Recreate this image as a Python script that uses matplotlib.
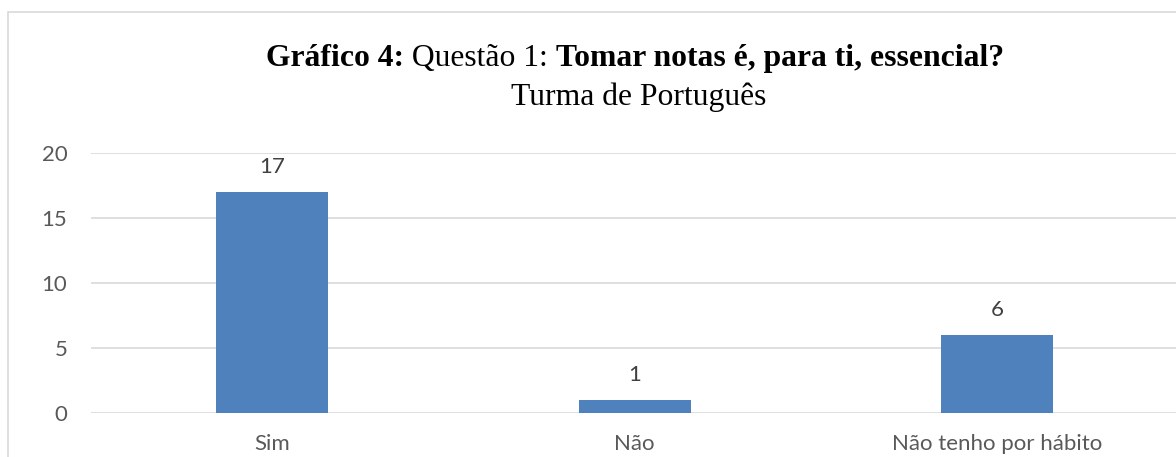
import matplotlib
matplotlib.use("Agg")
import matplotlib.pyplot as plt
from matplotlib.patches import Rectangle

categories = ["Sim", "Não", "Não tenho por hábito"]
values = [17, 1, 6]
yticks = [0, 5, 10, 15, 20]

W, H = 1176, 457
fig = plt.figure(figsize=(W / 100, H / 100), dpi=100)

# chart area border
fig.patches.append(Rectangle((8 / W, -0.1), 1.2, 1 - 12 / H + 0.1, transform=fig.transFigure,
                             fill=False, edgecolor="#d9d9d9", linewidth=1.2))

ax = fig.add_axes([91 / W, 1 - 413 / H, (1178.5 - 91) / W, (413 - 153) / H])
x = list(range(len(categories)))
bars = ax.bar(x, values, width=0.31, color="#4f81bd", zorder=3)
ax.set_xlim(-0.5, len(categories) - 0.5)
ax.set_ylim(0, 20)
ax.set_yticks(yticks)
ax.set_xticks(x)
ax.set_xticklabels(categories)
ax.grid(axis="y", color="#d9d9d9", linewidth=1.2, zorder=0)
for s in ax.spines.values():
    s.set_visible(False)
ax.tick_params(length=0, labelsize=16, labelcolor="#595959")
ax.tick_params(axis="y", pad=17)
ax.tick_params(axis="x", pad=15)
for lab in ax.get_xticklabels() + ax.get_yticklabels():
    lab.set_fontfamily("Lato")
for b, v in zip(bars, values):
    ax.annotate(str(v), (b.get_x() + b.get_width() / 2, v), xytext=(0, 18),
                textcoords="offset points", ha="center", va="center",
                fontsize=16, color="#404040", family="Lato")

# title with mixed weights
parts = [("Gráfico 4:", "bold"), (" Questão 1: ", "normal"),
         ("Tomar notas é, para ti, essencial?", "bold")]
fs = 22.8
fig.canvas.draw()
r = fig.canvas.get_renderer()
texts = []
for s, w in parts:
    t = fig.text(0, 0, s, fontsize=fs, fontweight=w, family="Liberation Serif",
                 color="black", va="baseline", ha="left")
    texts.append(t)
widths = [t.get_window_extent(r).width for t in texts]
total = sum(widths)
cx = 635
x0 = cx - total / 2
for t, wd in zip(texts, widths):
    t.set_position((x0 / W, 1 - 66 / H))
    x0 += wd
fig.text(639 / W, 1 - 105 / H, "Turma de Português", fontsize=fs, family="Liberation Serif",
         ha="center", va="baseline", color="black")

fig.savefig("out.png", dpi=100)
